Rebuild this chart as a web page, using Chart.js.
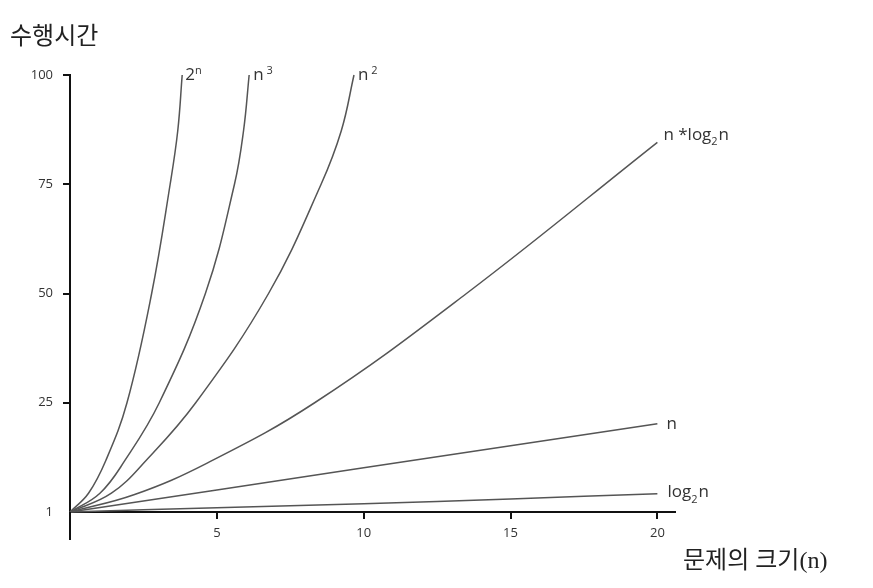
<!DOCTYPE html>
<html>
<head>
<meta charset="utf-8">
<script src="https://cdn.jsdelivr.net/npm/chart.js"></script>
<style>
  body{margin:0;background:#fff;}
  #wrap{width:873px;height:588px;position:relative;}
</style>
</head>
<body>
<div id="wrap"><canvas id="chart"></canvas></div>
<script>

// =====================
// DATA
// =====================

const xTicks = [0,5,10,15,20];
const yTicks = [0,25,50,75,100];
const yTickLabels = ["1","25","50","75","100"];

// 2^n
const expX = [0,0.63,1.22,1.94,2.78,3.41,3.67,3.82];
const expY = [0,4.3,11.8,25,50,75,87.3,100];
// n^3
const cubeX = [0,1.02,1.87,3.04,4.61,5.60,5.91,6.10];
const cubeY = [0,4.3,11.8,25,50,75,87.3,100];
// n^2
const squareX = [0,1.41,2.59,4.28,6.76,8.55,9.24,9.67];
const squareY = [0,4.3,11.8,25,50,75,87.3,100];
// n*log2n
const nlognX = [0,2.2,4.67,8.33,13.5,20];
const nlognY = [0,4.0,11.2,25,50,84.6];
// n
const linX = [0,10,20];
const linY = [0,10.1,20.2];
// log2n
const logX = [0,5,10,15,20];
const logY = [0,1.0,1.9,3.0,4.2];

// label pieces: [text, mode]
const curveLabels = [
  [["2",""],["n","sup"]],
  [["n",""],[" 3","sup"]],
  [["n",""],[" 2","sup"]],
  [["n *log",""],["2","sub"],["n",""]],
  [["n",""]],
  [["log",""],["2","sub"],["n",""]]
];
const labelDx = [3,4,4,6,9,10];
const labelDy = [0,0,0,-7,0,-1];

const yTitle = "수행시간";
const xTitle = "문제의 크기(n)";


// =====================
// HELPERS
// =====================

function pts(xs,ys){
  return xs.map((x,i)=>({x:x,y:ys[i]}));
}

function line(xs,ys){
  return {
    data:pts(xs,ys),
    showLine:true,
    borderColor:"#555",
    borderWidth:1.5,
    pointRadius:0,
    tension:0.4,
    clip:false
  };
}


// =====================
// PLUGINS
// =====================

const decor = {
  id:"decor",
  afterDatasetsDraw(chart){
    const ctx = chart.ctx;
    const xs = chart.scales.x, ys = chart.scales.y;

    // y axis runs on below the origin
    ctx.save();
    ctx.strokeStyle = "#111";
    ctx.lineWidth = 2;
    ctx.beginPath();
    ctx.moveTo(xs.getPixelForValue(0), ys.getPixelForValue(0));
    ctx.lineTo(xs.getPixelForValue(0), ys.getPixelForValue(0)+28);
    ctx.stroke();

    // curve names
    ctx.fillStyle = "#333";
    ctx.textBaseline = "middle";
    ctx.textAlign = "left";
    chart.data.datasets.forEach((ds,i)=>{
      const meta = chart.getDatasetMeta(i);
      const p = meta.data[meta.data.length-1];
      let x = p.x + labelDx[i];
      const y = p.y + labelDy[i];
      curveLabels[i].forEach(([t,mode])=>{
        if(mode==="sup"){
          ctx.font = '11px "Open Sans"';
          ctx.fillText(t, x, y-4);
        } else if(mode==="sub"){
          ctx.font = '11px "Open Sans"';
          ctx.fillText(t, x, y+7);
        } else {
          ctx.font = '17px "Open Sans"';
          ctx.fillText(t, x, y);
        }
        x += ctx.measureText(t).width + (mode ? 1 : 0);
      });
    });

    // axis titles
    ctx.fillStyle = "#222";
    ctx.font = '24px "Liberation Serif", "Noto Sans CJK KR"';
    ctx.fillText(yTitle, 10, 38);
    ctx.fillText(xTitle, 683, 562);
    ctx.restore();
  }
};


// =====================
// CHART
// =====================

new Chart(document.getElementById("chart"), {
  type:"scatter",
  data:{
    datasets:[
      line(expX,expY),
      line(cubeX,cubeY),
      line(squareX,squareY),
      line(nlognX,nlognY),
      line(linX,linY),
      line(logX,logY)
    ]
  },
  options:{
    responsive:true,
    maintainAspectRatio:false,
    animation:false,
    layout:{padding:{left:0,top:75,right:198,bottom:36}},
    plugins:{legend:{display:false},tooltip:{enabled:false}},
    scales:{
      x:{
        type:"linear",
        min:0,
        max:20.6,
        afterBuildTicks:s=>{ s.ticks = xTicks.map(v=>({value:v})); },
        afterFit:s=>{ s.height = 40; },
        border:{display:true,color:"#111",width:2},
        grid:{
          drawOnChartArea:false,
          drawTicks:true,
          tickLength:7,
          lineWidth:2,
          tickColor:c=>c.tick && c.tick.value===0 ? "rgba(0,0,0,0)" : "#111"
        },
        ticks:{
          color:"#333",
          padding:6,
          autoSkip:false,
          maxRotation:0,
          font:{family:"Open Sans",size:13},
          callback:v=>v===0 ? "" : String(v)
        }
      },
      y:{
        type:"linear",
        min:0,
        max:100,
        afterBuildTicks:s=>{ s.ticks = yTicks.map(v=>({value:v})); },
        afterFit:s=>{ s.width = 70; },
        border:{display:true,color:"#111",width:2},
        grid:{
          drawOnChartArea:false,
          drawTicks:true,
          tickLength:7,
          lineWidth:2,
          tickColor:c=>c.tick && c.tick.value===0 ? "rgba(0,0,0,0)" : "#111"
        },
        ticks:{
          color:"#333",
          padding:10,
          font:{family:"Open Sans",size:13},
          callback:v=>yTickLabels[yTicks.indexOf(v)]
        }
      }
    }
  },
  plugins:[decor]
});

</script>
</body>
</html>
